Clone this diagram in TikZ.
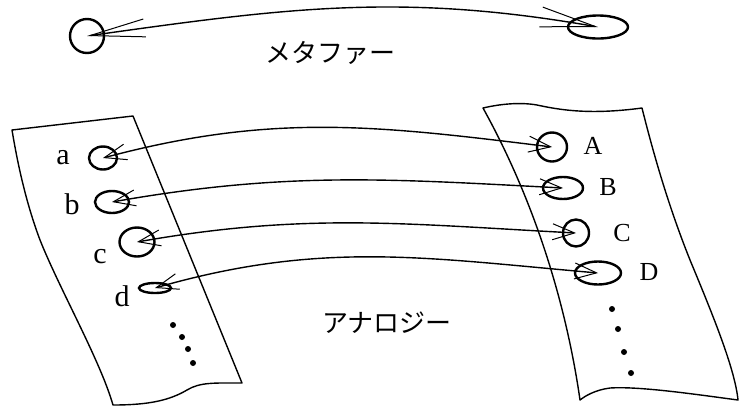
\documentclass[tikz,border=0pt]{standalone}
\usepackage{fontspec}
\setmainfont{Liberation Serif}
\newfontfamily\jp{Noto Sans CJK JP}
\usetikzlibrary{shapes.geometric,arrows.meta}
\begin{document}
\begin{tikzpicture}[x=1pt,y=-1pt,
  sheet/.style={line width=1.4pt,line join=round},
  blob/.style={ellipse,draw,line width=2.4pt,inner sep=0pt},
  link/.style={line width=1.4pt,{Straight Barb[length=22pt,width=16pt,line width=1pt]}-{Straight Barb[length=22pt,width=16pt,line width=1pt]}},
  biglink/.style={line width=1.4pt,{Straight Barb[length=55pt,width=18pt,line width=1pt]}-{Straight Barb[length=55pt,width=20pt,line width=1pt]}},
  lowlab/.style={font=\fontsize{30}{32}\selectfont},
  caplab/.style={font=\fontsize{26}{30}\selectfont},
  jplab/.style={font=\jp\fontsize{26}{30}\selectfont},
  dot/.style={circle,fill,inner sep=0pt,minimum size=6pt}]
\useasboundingbox (0,0) rectangle (739,408);

% top metaphor
\node[blob,minimum width=34pt,minimum height=34pt] (m1) at (87,36) {};
\node[blob,minimum width=60pt,minimum height=23pt] (m2) at (598,27) {};
\draw[biglink] (m1.center) to[out=8,in=170] (m2.center);
\node[jplab] (meta) at (330,53) {メタファー};

% left sheet
\draw[sheet] (12,130) -- (133,116) -- (242,383)
  .. controls (215,383) and (200,382) .. (187,390)
  .. controls (170,400) and (150,405) .. (113,405)
  .. controls (100,360) and (60,290) .. (40,240)
  .. controls (25,200) and (17,160) .. cycle;
% right sheet
\draw[sheet] (483,108) .. controls (500,104) and (520,102) .. (537,105)
  .. controls (560,110) and (590,115) .. (642,108)
  .. controls (655,160) and (670,210) .. (690,260)
  .. controls (715,320) and (735,370) .. (738,400)
  .. controls (700,395) and (640,386) .. (610,388)
  .. controls (595,390) and (585,396) .. (580,400)
  .. controls (570,330) and (545,220) .. cycle;

% left items
\node[blob,minimum width=28pt,minimum height=23pt] (a) at (103,158) {};
\node[blob,minimum width=34pt,minimum height=22pt] (b) at (112,202) {};
\node[blob,minimum width=35pt,minimum height=29pt] (c) at (137,242) {};
\node[blob,minimum width=32pt,minimum height=10pt] (d) at (155,288) {};
\node[lowlab] (la) at (63,158) {a};
\node[lowlab] (lb) at (72,204) {b};
\node[lowlab] (lc) at (100,257) {c};
\node[lowlab] (ld) at (122,296) {d};
\node[dot] (l1) at (173,325) {};
\node[dot] (l2) at (182,337) {};
\node[dot] (l3) at (188,349) {};
\node[dot] (l4) at (193,363) {};

% right items
\node[blob,minimum width=30pt,minimum height=29pt] (A) at (552,147) {};
\node[blob,minimum width=40pt,minimum height=22pt] (B) at (563,188) {};
\node[blob,minimum width=26pt,minimum height=27pt] (C) at (576,233) {};
\node[blob,minimum width=46pt,minimum height=23pt] (D) at (598,273) {};
\node[caplab] (lA) at (593,146) {A};
\node[caplab] (lB) at (608,187) {B};
\node[caplab] (lC) at (622,233) {C};
\node[caplab] (lD) at (649,272) {D};
\node[dot] (r1) at (612,309) {};
\node[dot] (r2) at (618,329) {};
\node[dot] (r3) at (624,352) {};
\node[dot] (r4) at (631,373) {};

% links
\draw[link] (a.center) to[out=15,in=173] (A.center);
\draw[link] (b.center) to[out=10,in=177] (B.center);
\draw[link] (c.center) to[out=10,in=177] (C.center);
\draw[link] (d.center) to[out=16,in=175] (D.center);

\node[jplab] (ana) at (387,323) {アナロジー};
\end{tikzpicture}
\end{document}
